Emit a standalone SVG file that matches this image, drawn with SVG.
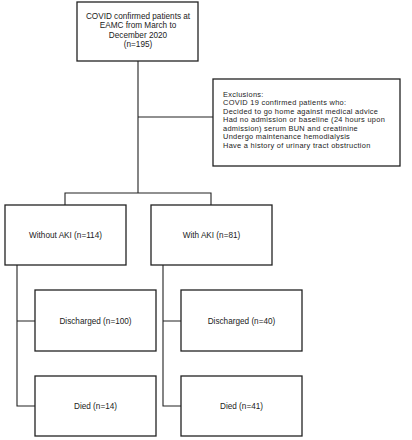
<svg xmlns="http://www.w3.org/2000/svg" width="412" height="440" viewBox="0 0 412 440">
<style>
.box{fill:#fff;stroke:#222;stroke-width:1.3}
.ln{fill:none;stroke:#222;stroke-width:1.1}
text{font-family:"Liberation Sans",Arial,sans-serif;font-size:8.2px;fill:#222}
.c{text-anchor:middle}
.ex{font-size:7.4px;letter-spacing:0.3px}
</style>
<rect width="412" height="440" fill="#fff"/>
<g id="connectors">
<path class="ln" d="M138 61V193M65 205V193H211V205M138 117H213M17 265V406H35M17 321H35M163 265V406H181M163 321H181"/>
</g>
<g id="n_top"><rect class="box" x="77" y="2" width="121" height="59"/>
<text class="c" x="138" y="18.5">COVID confirmed patients at</text>
<text class="c" x="138" y="28">EAMC from March to</text>
<text class="c" x="138" y="37.5">December 2020</text>
<text class="c" x="138" y="47">(n=195)</text></g>
<g id="n_excl" class="ex"><rect class="box" x="213" y="79" width="187" height="87"/>
<text class="ex" x="223" y="96.5">Exclusions:</text>
<text class="ex" x="223" y="105">COVID 19 confirmed patients who:</text>
<text class="ex" x="223" y="113.5">Decided to go home against medical advice</text>
<text class="ex" x="223" y="122">Had no admission or baseline (24 hours upon</text>
<text class="ex" x="223" y="130.5">admission) serum BUN and creatinine</text>
<text class="ex" x="223" y="139">Undergo maintenance hemodialysis</text>
<text class="ex" x="223" y="147.5">Have a history of urinary tract obstruction</text></g>
<g id="n_noaki"><rect class="box" x="5" y="205" width="121" height="60"/>
<text class="c" x="65.5" y="238">Without AKI (n=114)</text></g>
<g id="n_aki"><rect class="box" x="151" y="205" width="121" height="60"/>
<text class="c" x="211.5" y="238">With AKI (n=81)</text></g>
<g id="n_dis1"><rect class="box" x="35" y="290" width="121" height="61"/>
<text class="c" x="95.5" y="323.5">Discharged (n=100)</text></g>
<g id="n_dis2"><rect class="box" x="181" y="290" width="121" height="61"/>
<text class="c" x="241.5" y="323.5">Discharged (n=40)</text></g>
<g id="n_died1"><rect class="box" x="35" y="376" width="121" height="60"/>
<text class="c" x="95.5" y="408.5">Died (n=14)</text></g>
<g id="n_died2"><rect class="box" x="181" y="376" width="121" height="60"/>
<text class="c" x="241.5" y="408.5">Died (n=41)</text></g>
</svg>
